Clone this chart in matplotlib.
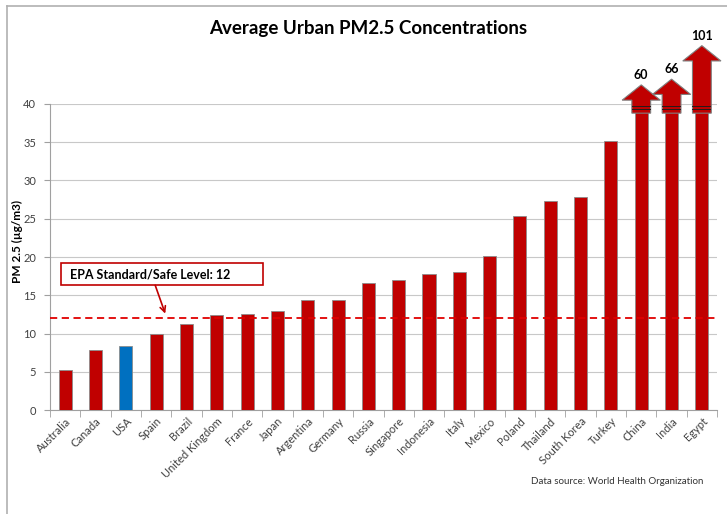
import numpy as np
import matplotlib.pyplot as plt
from matplotlib.patches import Polygon, Rectangle

# data
countries = ["Australia", "Canada", "USA", "Spain", "Brazil", "United Kingdom",
             "France", "Japan", "Argentina", "Germany", "Russia", "Singapore",
             "Indonesia", "Italy", "Mexico", "Poland", "Thailand", "South Korea",
             "Turkey", "China", "India", "Egypt"]
pm25 = [5.2, 7.8, 8.4, 9.9, 11.3, 12.4, 12.6, 12.9, 14.4, 14.4, 16.6, 17.0,
        17.8, 18.1, 20.1, 25.4, 27.3, 27.8, 35.2, 60, 66, 101]
epa_level = 12
y_max = 40

plt.rcParams['font.family'] = ['Lato', 'DejaVu Sans']

fig = plt.figure(figsize=(7.27, 5.14), dpi=100)
ax = fig.add_axes([0.0688, 0.2023, 0.9175, 0.5954])

x = np.arange(len(countries))
colors = ["#0070C0" if c == "USA" else "#C00000" for c in countries]
shown = [min(v, y_max) for v in pm25]
ax.bar(x, shown, width=0.43, color=colors, edgecolor="#8c8c8c", linewidth=0.6, zorder=3)

ax.set_xlim(-0.5, len(countries) - 0.5)
ax.set_ylim(0, y_max)
ax.set_yticks(range(0, 41, 5))
ax.tick_params(axis='y', labelsize=8, colors="#404040", length=4, color="#a0a0a0", pad=6)
ax.grid(axis='y', color="#c8c8c8", linewidth=0.8, zorder=0)
ax.set_xticks(x)
ax.set_xticklabels(countries, rotation=45, ha='right', rotation_mode='anchor',
                   fontsize=8, color="#404040")
ax.tick_params(axis='x', length=0, pad=4)
ax.set_xticks(np.arange(-0.5, len(countries), 1), minor=True)
ax.tick_params(axis='x', which='minor', length=5, color="#a0a0a0")
for s in ['top', 'right']:
    ax.spines[s].set_visible(False)
for s in ['left', 'bottom']:
    ax.spines[s].set_color("#a0a0a0")

# EPA line + callout
ax.axhline(epa_level, color="#E00000", linestyle=(0, (4, 2.5)), linewidth=1.3, zorder=4)
ax.add_patch(Rectangle((-0.13, 16.3), 6.66, 2.9, fc='white', ec="#C00000", lw=1.2,
                       zorder=6))
ax.text(0.17, 17.75, "EPA Standard/Safe Level: 12", fontsize=9, fontweight='bold',
        va='center', ha='left', zorder=7)
ax.annotate("", xy=(3.3, epa_level + 0.6), xytext=(2.97, 16.3),
            arrowprops=dict(arrowstyle='->', color="#C00000", lw=1.2,
                            shrinkA=0, shrinkB=0), zorder=6)

# arrows for values above axis
for xi, v in zip(x, pm25):
    if v <= y_max:
        continue
    apex = y_max + (v - y_max) * 0.125
    base = apex - 2.0
    bottom = 38.8
    bw, hw = 0.31, 0.63
    pts = [(xi - bw, bottom), (xi - bw, base), (xi - hw, base), (xi, apex),
           (xi + hw, base), (xi + bw, base), (xi + bw, bottom)]
    ax.add_patch(Polygon(pts, closed=True, fc="#C00000", ec="#7f7f7f", lw=0.8,
                         clip_on=False, zorder=5))
    ax.add_patch(Rectangle((xi - bw, bottom + 0.35), 2 * bw, 0.2, fc="#2a1a1a",
                           ec='none', clip_on=False, zorder=6))
    ax.add_patch(Rectangle((xi - bw, bottom + 0.75), 2 * bw, 0.2, fc="#2a1a1a",
                           ec='none', clip_on=False, zorder=6))
    ax.text(xi, apex + 0.5, str(v), ha='center', va='bottom', fontsize=9,
            fontweight='bold', clip_on=False)

fig.text(0.506, 0.945, "Average Urban PM2.5 Concentrations", ha='center', va='center',
         fontsize=13.5, fontweight='bold')
fig.text(0.024, 0.53, "PM 2.5 (µg/m3)", rotation=90, ha='center', va='center',
         fontsize=8.5, fontweight='bold')
fig.text(0.968, 0.064, "Data source: World Health Organization", ha='right', va='center',
         fontsize=7, color="#333333")

# chart frame (top/left edges)
fig.add_artist(plt.Line2D([0.009, 1.0], [0.988, 0.988], color="#b0b0b0", lw=1.2))
fig.add_artist(plt.Line2D([0.009, 0.009], [0.0, 0.988], color="#b0b0b0", lw=1.2))

fig.savefig("out.png", dpi=100)
